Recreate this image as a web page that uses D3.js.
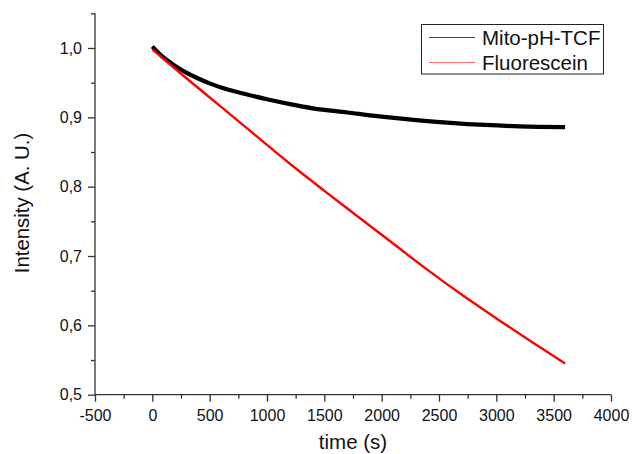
<!DOCTYPE html>
<html>
<head>
<meta charset="utf-8">
<script src="https://cdn.jsdelivr.net/npm/d3@7"></script>
<style>
  html, body { margin: 0; padding: 0; background: #fff; }
  svg { display: block; }
  text { font-family: "Liberation Sans", Arial, sans-serif; fill: #111; }
</style>
</head>
<body>
<svg id="chart" width="632" height="454"></svg>
<script>
// ---- data ----
const seriesNames = ["Mito-pH-TCF", "Fluorescein"];
const seriesColors = ["#000000", "#ff0000"];

const mitoTime = [0, 100, 200, 300, 400, 500, 600, 800, 1000, 1200, 1400, 1700, 2000, 2300, 2600, 2900, 3200, 3600];
const mitoIntensity = [1.002, 0.986, 0.974, 0.964, 0.956, 0.949, 0.943, 0.934, 0.926, 0.919, 0.913, 0.907, 0.901, 0.896, 0.892, 0.889, 0.887, 0.886];

const fluoTime = [0, 300, 600, 900, 1200, 1500, 1800, 2100, 2400, 2700, 3000, 3300, 3600];
const fluoIntensity = [0.998, 0.956, 0.915, 0.874, 0.833, 0.794, 0.756, 0.718, 0.680, 0.644, 0.610, 0.577, 0.545];

const xMajorTicks = [-500, 0, 500, 1000, 1500, 2000, 2500, 3000, 3500, 4000];
const xMinorTicks = [-250, 250, 750, 1250, 1750, 2250, 2750, 3250, 3750];
const yMajorTicks = [0.5, 0.6, 0.7, 0.8, 0.9, 1.0];
const yMinorTicks = [0.55, 0.65, 0.75, 0.85, 0.95, 1.05];

// ---- layout ----
const svg = d3.select("#chart");
const x = d3.scaleLinear().domain([-500, 4000]).range([95, 611]);
const y = d3.scaleLinear().domain([0.5, 1.05]).range([394.7, 13.3]);
const axisColor = "#333";
const fmtY = d => d3.format(".1f")(d).replace(".", ",");
const fmtX = d => String(d);

// series
const line = d3.line().x(d => x(d[0])).y(d => y(d[1])).curve(d3.curveMonotoneX);
const mito = mitoTime.map((t, i) => [t, mitoIntensity[i]]);
const fluo = fluoTime.map((t, i) => [t, fluoIntensity[i]]);

svg.append("path").attr("d", line(mito)).attr("fill", "none")
  .attr("stroke", seriesColors[0]).attr("stroke-width", 4.2).attr("stroke-linejoin", "round");
svg.append("path").attr("d", line(fluo)).attr("fill", "none")
  .attr("stroke", seriesColors[1]).attr("stroke-width", 2.4).attr("stroke-linejoin", "round");

// x axis
const xAxis = svg.append("g").attr("transform", `translate(0,${y.range()[0]})`);
xAxis.call(d3.axisBottom(x).tickValues(xMajorTicks).tickSize(7).tickPadding(8).tickFormat(fmtX));
xAxis.append("g").call(d3.axisBottom(x).tickValues(xMinorTicks).tickSize(4).tickFormat(""))
  .call(g => g.select(".domain").remove());
xAxis.selectAll(".domain").attr("d", `M${x.range()[0]},0H${x.range()[1]}`);

// y axis
const yAxis = svg.append("g").attr("transform", `translate(${x.range()[0]},0)`);
yAxis.call(d3.axisLeft(y).tickValues(yMajorTicks).tickSize(7).tickPadding(6).tickFormat(fmtY));
yAxis.append("g").call(d3.axisLeft(y).tickValues(yMinorTicks).tickSize(4).tickFormat(""))
  .call(g => g.select(".domain").remove());
yAxis.selectAll(".domain").attr("d", `M0,${y.range()[0]}V${y.range()[1]}`);

svg.selectAll(".domain, .tick line").attr("stroke", axisColor).attr("stroke-width", 1.3);
svg.selectAll(".tick text").style("font-size", "16px").attr("fill", "#111");

// axis titles
svg.append("text").attr("x", (x.range()[0] + x.range()[1]) / 2).attr("y", 448.5)
  .attr("text-anchor", "middle").style("font-size", "20.5px").text("time (s)");
svg.append("text").attr("transform", `translate(29,203) rotate(-90)`)
  .attr("text-anchor", "middle").style("font-size", "20.4px").text("Intensity (A. U.)");

// legend
const lg = svg.append("g");
lg.append("rect").attr("x", 421.5).attr("y", 24.5).attr("width", 182).attr("height", 49.5)
  .attr("fill", "#fff").attr("stroke", "#222").attr("stroke-width", 1);
const legendColors = ["#444", "#ff6a6a"];
seriesNames.forEach((name, i) => {
  const cy = 37 + i * 25;
  lg.append("line").attr("x1", 429).attr("x2", 475).attr("y1", cy + 0.5).attr("y2", cy + 0.5)
    .attr("stroke", legendColors[i]).attr("stroke-width", 1);
  lg.append("text").attr("x", 482).attr("y", cy + 7.5).style("font-size", "20.5px").attr("fill", "#111").text(name);
});
</script>
</body>
</html>
